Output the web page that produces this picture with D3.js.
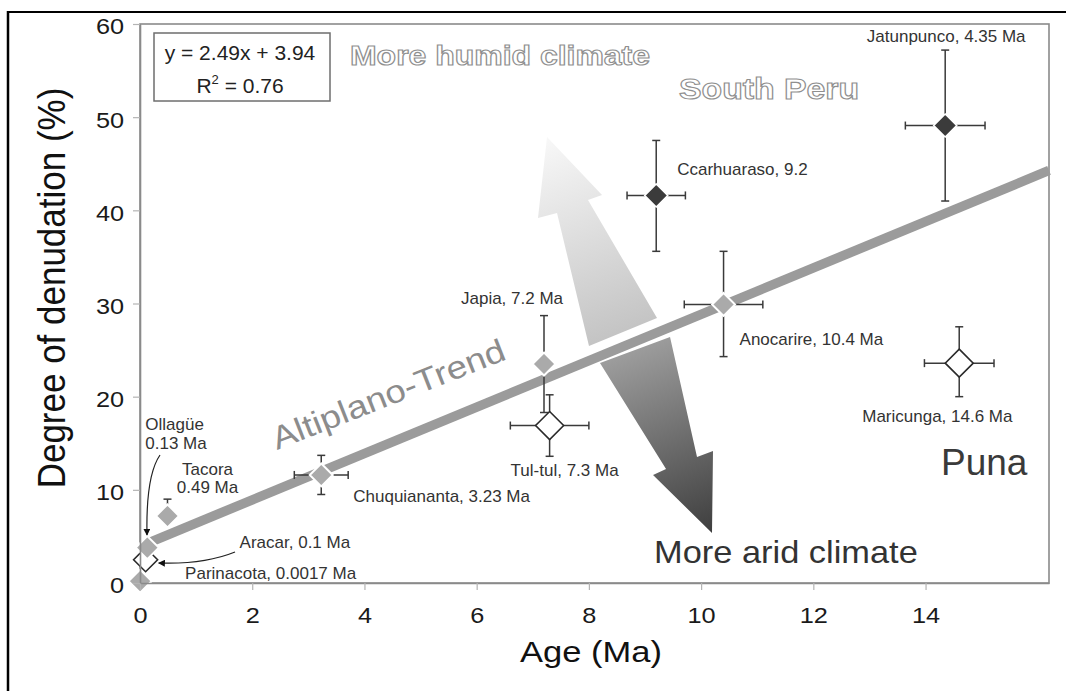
<!DOCTYPE html>
<html>
<head>
<meta charset="utf-8">
<script src="https://cdn.jsdelivr.net/npm/d3@7"></script>
<style>
  html, body { margin: 0; padding: 0; background: #fff; }
  svg { display: block; }
  text { font-family: "Liberation Sans", Arial, sans-serif; }
</style>
</head>
<body>
<svg id="chart" width="1066" height="691"></svg>
<script>
// ---- data ----
const sites = ["Parinacota", "Aracar", "Ollagüe", "Tacora", "Chuquiananta", "Japia",
               "Tul-tul", "Anocarire", "Ccarhuaraso", "Jatunpunco", "Maricunga"];
const ages = [0.0017, 0.1, 0.13, 0.49, 3.23, 7.2, 7.3, 10.4, 9.2, 14.35, 14.6];
const denudation = [0.2, 2.5, 3.8, 7.2, 11.6, 23.5, 16.9, 29.9, 41.6, 49.1, 23.6];
const ageErr = [0, 0, 0, 0, 0.48, 0, 0.7, 0.7, 0.52, 0.71, 0.62];
const denudErrUp = [0, 0, 0, 1.8, 2.1, 5.2, 3.3, 5.7, 5.9, 8.1, 3.9];
const denudErrDown = [0, 0, 0, 0, 2.1, 5.2, 3.3, 5.6, 6.0, 8.1, 3.6];
const regions = ["Altiplano", "Puna", "Altiplano", "Altiplano", "Altiplano", "Altiplano",
                 "Puna", "Altiplano", "South Peru", "South Peru", "Puna"];
const siteLabels = [
  ["Parinacota, 0.0017 Ma"], ["Aracar, 0.1 Ma"], ["Ollagüe", "0.13 Ma"], ["Tacora", "0.49 Ma"],
  ["Chuquiananta, 3.23 Ma"], ["Japia, 7.2 Ma"], ["Tul-tul, 7.3 Ma"], ["Anocarire, 10.4 Ma"],
  ["Ccarhuaraso, 9.2"], ["Jatunpunco, 4.35 Ma"], ["Maricunga, 14.6 Ma"]
];
const xTicks = [0, 2, 4, 6, 8, 10, 12, 14];
const yTicks = [0, 10, 20, 30, 40, 50, 60];

// regression of the Altiplano trend
const slope = 2.49;
const intercept = 3.94;
const rSquared = 0.76;
const trendAgeRange = [0.13, 16.2];

// climate arrows, outlined as [age, denudation] vertices
const humidArrow = [[7.254, 47.87], [8.234, 41.64], [7.984, 41.11], [9.214, 28.44],
                    [8.002, 25.44], [7.432, 39.71], [7.093, 39.18]];
const aridArrow = [[8.198, 23.61], [9.446, 26.40], [9.927, 13.52], [10.212, 14.17],
                   [10.194, 5.37], [9.143, 11.59], [9.375, 12.24]];

// ---- layout & styles ----
const plot = { left: 140, right: 1049, top: 24, bottom: 583 };
const x = d3.scaleLinear().domain([0, 16.2]).range([plot.left, plot.right]);
const y = d3.scaleLinear().domain([0, 60]).range([plot.bottom, plot.top]);

const markerStyle = {
  "Altiplano":  { fill: "#aaaaaa", stroke: "#ffffff", width: 2,   r: 11.5 },
  "South Peru": { fill: "#3b3b3b", stroke: "#ffffff", width: 1.5, r: 11.5 },
  "Puna":       { fill: "#ffffff", stroke: "#2a2a2a", width: 1.6, r: 14 }
};
const markerSizeOverride = { "Aracar": 12 };

// label offsets in px from each marker
const labelLayout = {
  "Parinacota":   { dx: 45,  dy: [-2],       anchor: "start" },
  "Aracar":       { dx: 94,  dy: [-12],      anchor: "start" },
  "Ollagüe":      { dx: -2,  dy: [-118, -99], anchor: "start" },
  "Tacora":       { dx: 40,  dy: [-41, -23], anchor: "middle" },
  "Chuquiananta": { dx: 32,  dy: [27],       anchor: "start" },
  "Japia":        { dx: -32, dy: [-60],      anchor: "middle" },
  "Tul-tul":      { dx: -39, dy: [50],       anchor: "start" },
  "Anocarire":    { dx: 16,  dy: [41],       anchor: "start" },
  "Ccarhuaraso":  { dx: 21,  dy: [-20],      anchor: "start" },
  "Jatunpunco":   { dx: 1,   dy: [-84],      anchor: "middle" },
  "Maricunga":    { dx: -97, dy: [59],       anchor: "start" }
};

// curved pointers: [start, control, end] offsets from the marker
const pointers = {
  "Ollagüe": [[12.7, -92.6], [-1.5, -72], [-0.3, -12.6]],
  "Aracar":  [[89.4, -7.7], [58, 5], [13, 3.3]]
};

const points = sites.map((s, i) => ({
  site: s, age: ages[i], den: denudation[i], ex: ageErr[i],
  up: denudErrUp[i], down: denudErrDown[i], region: regions[i], label: siteLabels[i]
}));

const svg = d3.select("#chart");
const defs = svg.append("defs");

// ---- figure frame ----
svg.append("line").attr("x1", 7).attr("y1", 12).attr("x2", 1066).attr("y2", 12)
  .attr("stroke", "#000").attr("stroke-width", 2);
svg.append("line").attr("x1", 8).attr("y1", 11).attr("x2", 8).attr("y2", 691)
  .attr("stroke", "#000").attr("stroke-width", 2.5);

// ---- plot border ----
svg.append("rect")
  .attr("x", plot.left).attr("y", plot.top)
  .attr("width", plot.right - plot.left).attr("height", plot.bottom - plot.top)
  .attr("fill", "none").attr("stroke", "#8a8a8a").attr("stroke-width", 1.6);

// ---- climate arrows ----
const toPx = p => [x(p[0]), y(p[1])];
const hPts = humidArrow.map(toPx);
const aPts = aridArrow.map(toPx);

function linGrad(id, p1, p2, c1, c2) {
  const g = defs.append("linearGradient").attr("id", id)
    .attr("gradientUnits", "userSpaceOnUse")
    .attr("x1", p1[0]).attr("y1", p1[1]).attr("x2", p2[0]).attr("y2", p2[1]);
  g.append("stop").attr("offset", "0%").attr("stop-color", c1);
  g.append("stop").attr("offset", "100%").attr("stop-color", c2);
}
const mid = (a, b) => [(a[0] + b[0]) / 2, (a[1] + b[1]) / 2];
linGrad("humidGrad", hPts[0], mid(hPts[3], hPts[4]), "#f8f8f8", "#c4c4c4");
linGrad("aridGrad", mid(aPts[0], aPts[1]), aPts[4], "#9c9c9c", "#3e3e3e");

const line = d3.line();
svg.append("path").attr("d", line(hPts) + "Z").attr("fill", "url(#humidGrad)");
svg.append("path").attr("d", line(aPts) + "Z").attr("fill", "url(#aridGrad)");

// ---- stretched text helper ----
function addText(parent, str, px, py, opts) {
  const t = parent.append("text").text(str)
    .attr("font-size", opts.size)
    .attr("text-anchor", opts.anchor || "start")
    .attr("fill", opts.fill || "#333");
  let tr = `translate(${px},${py})`;
  if (opts.rotate) tr += ` rotate(${opts.rotate})`;
  if (opts.sx && opts.sx !== 1) tr += ` scale(${opts.sx},1)`;
  t.attr("transform", tr);
  if (opts.weight) t.attr("font-weight", opts.weight);
  if (opts.stroke) t.attr("stroke", opts.stroke).attr("stroke-width", opts.strokeWidth || 1);
  if (opts.textLength) t.attr("textLength", opts.textLength).attr("lengthAdjust", "spacingAndGlyphs");
  return t;
}

// ---- region annotations ----
addText(svg, "Altiplano-Trend", 277, 450, { size: 32, fill: "#8c8c8c", rotate: -21.5, sx: 1.15 });
addText(svg, "More humid climate", 350, 65, { size: 27, weight: "bold", fill: "#ffffff",
  stroke: "#8f8f8f", strokeWidth: 1.1, textLength: 300 });
addText(svg, "South Peru", 679, 99, { size: 29, weight: "bold", fill: "#ffffff",
  stroke: "#8f8f8f", strokeWidth: 1.1, textLength: 180 });
addText(svg, "More arid climate", 654, 563, { size: 31, fill: "#333", sx: 1.11 });
addText(svg, "Puna", 941, 475, { size: 37, fill: "#3a3a3a" });

// ---- trend line ----
svg.append("line")
  .attr("x1", x(trendAgeRange[0])).attr("y1", y(slope * trendAgeRange[0] + intercept))
  .attr("x2", x(trendAgeRange[1])).attr("y2", y(slope * trendAgeRange[1] + intercept))
  .attr("stroke", "#9b9b9b").attr("stroke-width", 9.5);

// ---- error bars ----
const errG = svg.append("g").attr("stroke", "#3a3a3a").attr("stroke-width", 1.5).attr("fill", "none");
const cap = 4;
points.forEach(p => {
  const cx = x(p.age), cy = y(p.den);
  if (p.up > 0) {
    const yt = y(p.den + p.up);
    errG.append("line").attr("x1", cx).attr("x2", cx).attr("y1", cy).attr("y2", yt);
    errG.append("line").attr("x1", cx - cap).attr("x2", cx + cap).attr("y1", yt).attr("y2", yt);
  }
  if (p.down > 0) {
    const yb = y(p.den - p.down);
    errG.append("line").attr("x1", cx).attr("x2", cx).attr("y1", cy).attr("y2", yb);
    errG.append("line").attr("x1", cx - cap).attr("x2", cx + cap).attr("y1", yb).attr("y2", yb);
  }
  if (p.ex > 0) {
    const xl = x(p.age - p.ex), xr = x(p.age + p.ex);
    errG.append("line").attr("x1", xl).attr("x2", xr).attr("y1", cy).attr("y2", cy);
    errG.append("line").attr("x1", xl).attr("x2", xl).attr("y1", cy - cap).attr("y2", cy + cap);
    errG.append("line").attr("x1", xr).attr("x2", xr).attr("y1", cy - cap).attr("y2", cy + cap);
  }
});

// ---- diamond markers ----
const diamond = r => `M0,${-r}L${r},0L0,${r}L${-r},0Z`;
// open (Puna) markers first so the grey Ollagüe marker sits above Aracar
const drawOrder = points.slice().sort((a, b) => (a.region === "Puna" ? 0 : 1) - (b.region === "Puna" ? 0 : 1));
svg.append("g").selectAll("path").data(drawOrder).join("path")
  .attr("transform", d => `translate(${x(d.age)},${y(d.den)})`)
  .attr("d", d => diamond(markerSizeOverride[d.site] || markerStyle[d.region].r))
  .attr("fill", d => markerStyle[d.region].fill)
  .attr("stroke", d => markerStyle[d.region].stroke)
  .attr("stroke-width", d => markerStyle[d.region].width)
  .attr("stroke-linejoin", "miter");

// ---- site labels ----
const labelG = svg.append("g");
points.forEach(p => {
  const L = labelLayout[p.site];
  p.label.forEach((txt, k) => {
    labelG.append("text").text(txt)
      .attr("x", x(p.age) + L.dx).attr("y", y(p.den) + L.dy[k])
      .attr("text-anchor", L.anchor)
      .attr("font-size", 17).attr("fill", "#333");
  });
});

// ---- curved pointers ----
defs.append("marker").attr("id", "tip")
  .attr("viewBox", "0 0 10 10").attr("refX", 9).attr("refY", 5)
  .attr("markerWidth", 7).attr("markerHeight", 7).attr("markerUnits", "userSpaceOnUse")
  .attr("orient", "auto")
  .append("path").attr("d", "M0,0L10,5L0,10Z").attr("fill", "#111");
Object.entries(pointers).forEach(([site, pts]) => {
  const p = points.find(d => d.site === site);
  const cx = x(p.age), cy = y(p.den);
  const [s, c, e] = pts;
  svg.append("path")
    .attr("d", `M${cx + s[0]},${cy + s[1]}Q${cx + c[0]},${cy + c[1]} ${cx + e[0]},${cy + e[1]}`)
    .attr("fill", "none").attr("stroke", "#222").attr("stroke-width", 1.2)
    .attr("marker-end", "url(#tip)");
});

// ---- regression box ----
const box = svg.append("g");
box.append("rect").attr("x", 154).attr("y", 33).attr("width", 176).attr("height", 68)
  .attr("fill", "#fff").attr("stroke", "#6e6e6e").attr("stroke-width", 1.5);
box.append("text").attr("x", 240).attr("y", 60).attr("text-anchor", "middle")
  .attr("font-size", 21).attr("fill", "#222")
  .text(`y = ${slope}x + ${intercept}`);
const r2t = box.append("text").attr("x", 240).attr("y", 93).attr("text-anchor", "middle")
  .attr("font-size", 21).attr("fill", "#222");
r2t.append("tspan").text("R");
r2t.append("tspan").text("2").attr("font-size", 13).attr("dy", -9);
r2t.append("tspan").text(` = ${rSquared.toFixed(2)}`).attr("dy", 9);

// ---- axes ----
const xAxis = svg.append("g").attr("transform", `translate(0,${plot.bottom})`)
  .call(d3.axisBottom(x).tickValues(xTicks).tickSize(7).tickSizeOuter(0).tickPadding(17));
const yAxis = svg.append("g").attr("transform", `translate(${plot.left},0)`)
  .call(d3.axisLeft(y).tickValues(yTicks).tickSize(7).tickSizeOuter(0));
[xAxis, yAxis].forEach(a => {
  a.select(".domain").attr("stroke", "#8a8a8a").attr("stroke-width", 1.6);
  a.selectAll(".tick line").attr("stroke", "#b4b4b4").attr("stroke-width", 1.2);
  a.selectAll(".tick text").attr("font-size", 22).attr("fill", "#1a1a1a")
    .attr("font-family", '"Liberation Sans", Arial, sans-serif');
});
xAxis.selectAll(".tick text").attr("transform", "scale(1.15,1)");
yAxis.selectAll(".tick text").attr("x", -13.9).attr("dy", "0.45em").attr("transform", "scale(1.15,1)");

// axis titles
addText(svg, "Age (Ma)", 591, 662, { size: 30, anchor: "middle", fill: "#111", sx: 1.15 });
addText(svg, "Degree of denudation (%)", 65, 288, { size: 35, anchor: "middle", fill: "#111" })
  .attr("transform", "translate(65,288) scale(1.1,1) rotate(-90)");
</script>
</body>
</html>
